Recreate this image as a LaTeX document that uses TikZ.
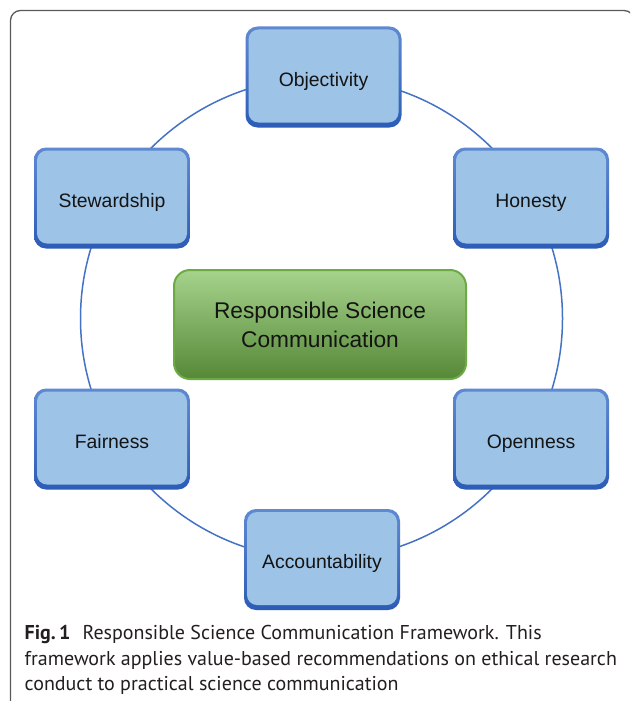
\documentclass[tikz,border=0pt]{standalone}
\usepackage{fontspec}
\setmainfont{Liberation Sans}
\newfontfamily\capfont{PT Sans}
\definecolor{framegray}{HTML}{5A5A5A}
\definecolor{ringblue}{HTML}{4472C4}
\definecolor{edgetop}{HTML}{5F8AD2}
\definecolor{edgebot}{HTML}{2C5CB6}
\definecolor{valuefill}{HTML}{9DC3E6}
\definecolor{coretop}{HTML}{A6D38C}
\definecolor{coremid}{HTML}{78B152}
\definecolor{corebot}{HTML}{558837}
\definecolor{coreedge}{HTML}{6CAA45}
\definecolor{captext}{HTML}{231F20}
\begin{document}
\begin{tikzpicture}[x=1pt,y=-1pt,
  value/.style={rounded corners=12pt, minimum width=156pt, minimum height=101pt,
    inner sep=0pt, text height=18.5pt, text depth=0.5pt,
    top color=edgetop, bottom color=edgebot,
    font=\fontsize{19.4}{23}\selectfont, text=black!92,
    path picture={\fill[valuefill, rounded corners=10pt]
      ([xshift=3pt,yshift=5pt]path picture bounding box.south west) rectangle
      ([xshift=-3pt,yshift=-3pt]path picture bounding box.north east);}},
  core/.style={rounded corners=16pt, minimum width=292pt, minimum height=109pt,
    inner sep=0pt, align=center, draw=coreedge, line width=2pt,
    top color=coretop, middle color=coremid, bottom color=corebot,
    font=\fontsize{22.7}{29}\selectfont, text=black!92},
  caption/.style={anchor=base west, inner sep=0pt, text=captext,
    font=\capfont\fontsize{20}{25.5}\selectfont}]
\useasboundingbox (0,0) rectangle (630,701);
\fill[white] (0,0) rectangle (630,701);

% outer panel frame, running off the page to the right and bottom
\begin{scope}
  \clip (0,0) rectangle (630,701);
  \draw[framegray, line width=1.3pt, rounded corners=10pt] (10.5,10.5) rectangle (634,730);
\end{scope}

% ring linking the six values
\node (ring) [draw=ringblue, line width=1.5pt, circle, minimum size=482pt, inner sep=0pt] at (321.5,318.5) {};

% central concept
\node (core) [core] at (320,324.5) {Responsible Science\\Communication};

% six values around the ring
\node (objectivity)    [value] at (323.5,77)  {Objectivity};
\node (honesty)        [value] at (531,198)   {Honesty};
\node (openness)       [value] at (531,439)   {Openness};
\node (accountability) [value] at (322,559.5) {Accountability};
\node (fairness)       [value] at (112,439)   {Fairness};
\node (stewardship)    [value] at (112,198)   {Stewardship};

% figure caption
\node (cap1) [caption] at (24.5,639.5) {\textbf{Fig.\,1}\hspace{0.6em}Responsible Science Communication Framework. This};
\node (cap2) [caption] at (24.5,665)   {framework applies value-based recommendations on ethical research};
\node (cap3) [caption] at (24.5,690.5) {conduct to practical science communication};
\end{tikzpicture}
\end{document}
